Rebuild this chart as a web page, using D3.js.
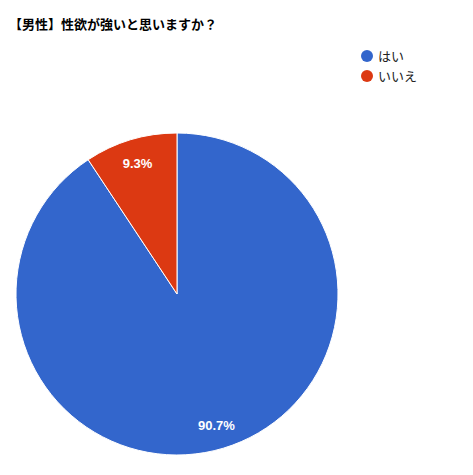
<!DOCTYPE html>
<html>
<head>
<meta charset="utf-8">
<script src="https://cdn.jsdelivr.net/npm/d3@7"></script>
<style>
  body { margin: 0; background: #fff; }
  text { font-family: Arial, "Liberation Sans", "Noto Sans CJK JP", sans-serif; }
</style>
</head>
<body>
<div id="chart"></div>
<script>
const width = 473;
const height = 475;

// data
const labels = ['はい', 'いいえ'];
const values = [90.7, 9.3];
const colors = ['#3366cc', '#dc3912'];
const title = '【男性】性欲が強いと思いますか？';

const cx = 177, cy = 294, radius = 161;

const svg = d3.select('#chart')
  .append('svg')
  .attr('width', width)
  .attr('height', height);

svg.append('rect').attr('width', width).attr('height', height).attr('fill', '#fff');

svg.append('text')
  .attr('x', 9)
  .attr('y', 29)
  .attr('font-size', 13)
  .attr('font-weight', 'bold')
  .attr('fill', '#000')
  .text(title);

const pie = d3.pie().sort(null).value(d => d);
const arcs = pie(values);
const arc = d3.arc().innerRadius(0).outerRadius(radius);
const labelArc = d3.arc().innerRadius(radius * 0.85).outerRadius(radius * 0.85);

const g = svg.append('g').attr('transform', `translate(${cx},${cy})`);

g.selectAll('path')
  .data(arcs)
  .enter()
  .append('path')
  .attr('d', arc)
  .attr('fill', (d, i) => colors[i])
  .attr('stroke', '#fff')
  .attr('stroke-width', 1);

g.selectAll('text.lbl')
  .data(arcs)
  .enter()
  .append('text')
  .attr('class', 'lbl')
  .attr('transform', d => `translate(${labelArc.centroid(d)})`)
  .attr('text-anchor', 'middle')
  .attr('dy', '0.35em')
  .attr('font-size', 13)
  .attr('font-weight', 'bold')
  .attr('fill', '#fff')
  .text(d => d.data.toFixed(1) + '%');

// legend
const legend = svg.selectAll('g.legend')
  .data(labels)
  .enter()
  .append('g')
  .attr('class', 'legend')
  .attr('transform', (d, i) => `translate(367, ${56 + i * 20})`);

legend.append('circle')
  .attr('r', 6)
  .attr('fill', (d, i) => colors[i]);

legend.append('text')
  .attr('x', 11)
  .attr('dy', '0.35em')
  .attr('font-size', 13)
  .attr('fill', '#222')
  .text(d => d);
</script>
</body>
</html>
